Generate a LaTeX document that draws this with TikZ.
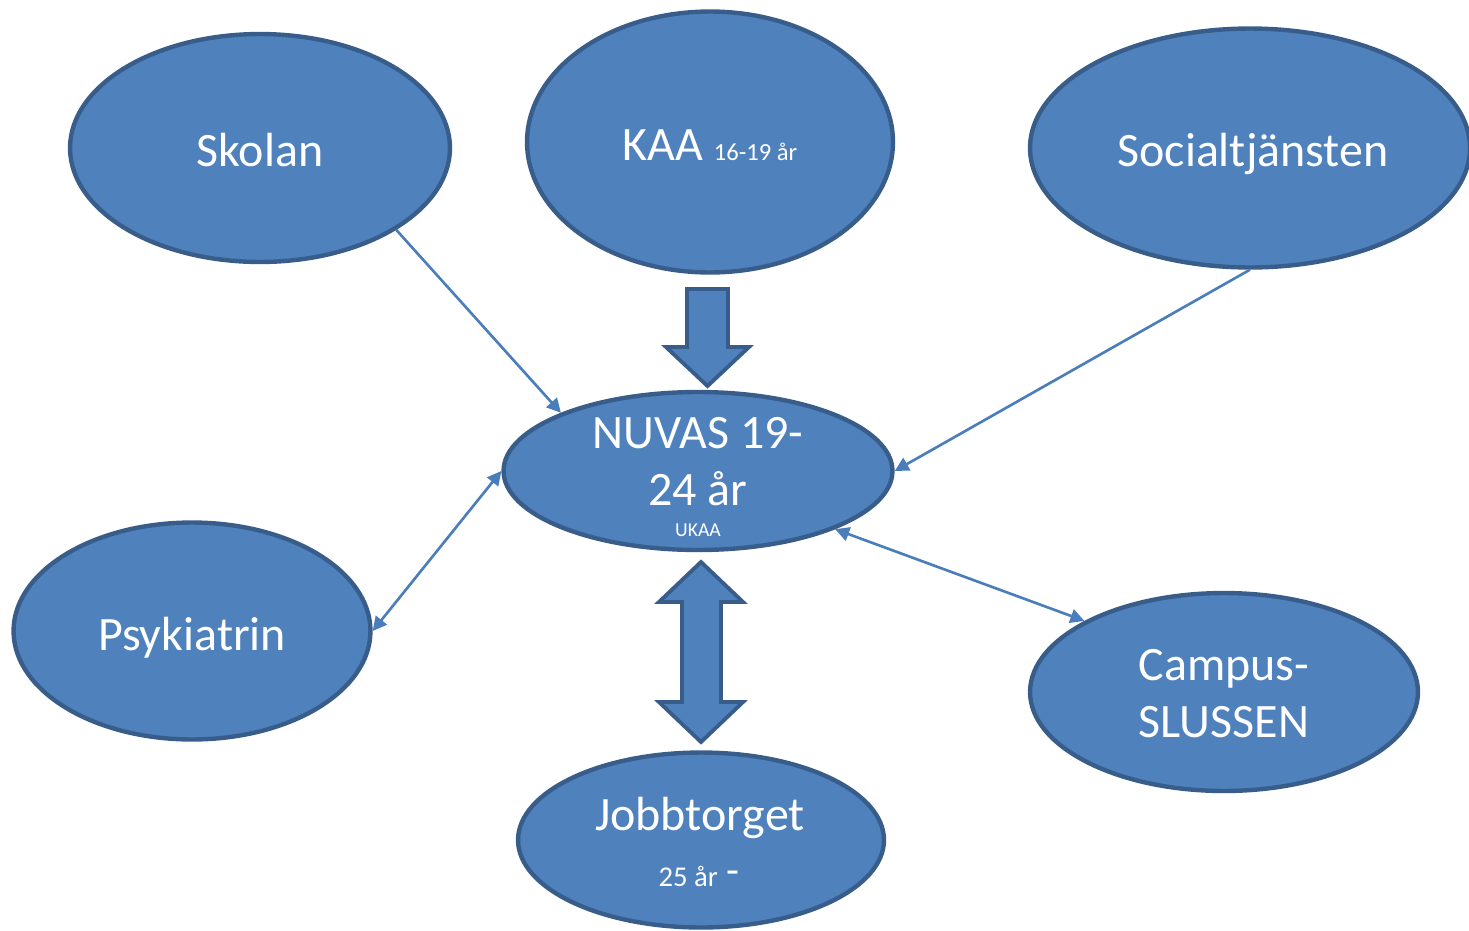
\documentclass[tikz,border=0pt]{standalone}
\usepackage{fontspec}
\setmainfont{Carlito}
\usetikzlibrary{shapes.geometric,arrows.meta}
\definecolor{fillblue}{HTML}{4F81BD}
\definecolor{edgeblue}{HTML}{385D8A}
\definecolor{lineblue}{HTML}{4A7EBB}
\tikzset{
  bubble/.style={ellipse,draw=edgeblue,fill=fillblue,line width=2.5pt,inner sep=0pt},
  txt/.style={text=white,anchor=base,inner sep=0pt,font=\fontsize{27.3}{32}\selectfont},
  small/.style={txt,font=\fontsize{16.3}{18}\selectfont},
  link/.style={draw=lineblue,line width=1.5pt,-{Triangle[length=8pt,width=8pt]}},
  twoway/.style={link,{Triangle[length=8pt,width=8pt]}-{Triangle[length=8pt,width=8pt]}},
  blockarrow/.style={draw=edgeblue,fill=fillblue,line width=2.2pt,line join=miter}
}
\begin{document}
\begin{tikzpicture}[x=0.02cm,y=-0.02cm]
\useasboundingbox (0,0) rectangle (1469,930);
% bubbles
\node[bubble,minimum width=7.6cm,minimum height=4.56cm] (skolan) at (260,148) {};
\node[bubble,minimum width=7.32cm,minimum height=5.22cm] (kaa) at (710,142) {};
\node[bubble,minimum width=8.8cm,minimum height=4.78cm] (social) at (1250,148) {};
\node[bubble,minimum width=7.78cm,minimum height=3.16cm] (nuvas) at (698,471) {};
\node[bubble,minimum width=7.14cm,minimum height=4.34cm] (psyk) at (192,631) {};
\node[bubble,minimum width=7.76cm,minimum height=3.96cm] (campus) at (1224,692) {};
\node[bubble,minimum width=7.32cm,minimum height=3.5cm] (jobb) at (701,840) {};
% texts
\node[txt] (skolant) at (260,166) {Skolan};
\node[txt] (kaat) at (710,160) {KAA {\fontsize{14}{15}\selectfont 16-19 år}};
\node[txt] (socialt) at (1253,166) {Socialtjänsten};
\node[txt] (nuvast) at (698,448) {NUVAS 19-};
\node[txt] (nuvasu) at (698,505) {24 år};
\node[txt,font=\fontsize{11.2}{13}\selectfont] (nuvasv) at (698,536) {UKAA};
\node[txt] (psykt) at (192,650) {Psykiatrin};
\node[txt] (campust) at (1224,680) {Campus-};
\node[txt] (campusu) at (1224,737) {SLUSSEN};
\node[txt] (jobbt) at (700,830) {Jobbtorget};
\node[small] (jobbu) at (699,886) {25 år\hspace{5pt}\raisebox{1pt}{\fontsize{24}{24}\selectfont -}};
% thin links
\draw[link] (skolan.-31) -- (nuvas.157.5);
\draw[link] (social.-90) -- (nuvas.0);
\draw[twoway] (psyk.0) -- (nuvas.180);
\draw[twoway] (nuvas.-23) -- (campus.153);
% block arrows
\draw[blockarrow] (687,289) -- (728,289) -- (728,347) -- (749,347) -- (707.5,386)
  -- (666,347) -- (687,347) -- cycle;
\draw[blockarrow] (701,562) -- (743,602) -- (721,602) -- (721,702) -- (743,702)
  -- (701,742) -- (659,702) -- (682,702) -- (682,602) -- (659,602) -- cycle;
\end{tikzpicture}
\end{document}
